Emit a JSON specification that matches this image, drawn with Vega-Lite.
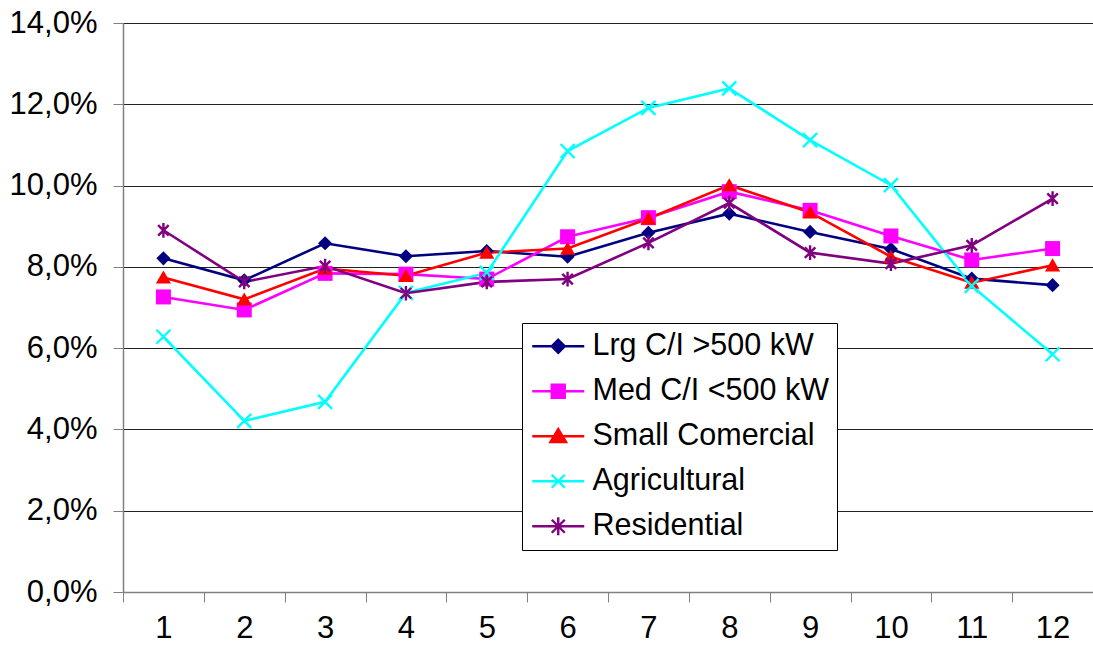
{
  "$schema": "https://vega.github.io/schema/vega-lite/v6.json",
  "width": 970,
  "height": 569,
  "autosize": {"type": "none"},
  "padding": {"left": 123, "top": 23, "right": 0, "bottom": 63},
  "background": "#ffffff",
  "config": {
    "view": {"stroke": null},
    "font": "Liberation Sans",
    "axis": {
      "labelFont": "Liberation Sans",
      "labelColor": "#000000",
      "title": null
    }
  },
  "data": {
    "values": [
      {"month": 1, "series": "Lrg C/I >500 kW", "share": 8.21},
      {"month": 2, "series": "Lrg C/I >500 kW", "share": 7.67},
      {"month": 3, "series": "Lrg C/I >500 kW", "share": 8.58},
      {"month": 4, "series": "Lrg C/I >500 kW", "share": 8.26},
      {"month": 5, "series": "Lrg C/I >500 kW", "share": 8.39},
      {"month": 6, "series": "Lrg C/I >500 kW", "share": 8.25},
      {"month": 7, "series": "Lrg C/I >500 kW", "share": 8.84},
      {"month": 8, "series": "Lrg C/I >500 kW", "share": 9.31},
      {"month": 9, "series": "Lrg C/I >500 kW", "share": 8.86},
      {"month": 10, "series": "Lrg C/I >500 kW", "share": 8.44},
      {"month": 11, "series": "Lrg C/I >500 kW", "share": 7.71},
      {"month": 12, "series": "Lrg C/I >500 kW", "share": 7.55},
      {"month": 1, "series": "Med C/I <500 kW", "share": 7.26},
      {"month": 2, "series": "Med C/I <500 kW", "share": 6.94},
      {"month": 3, "series": "Med C/I <500 kW", "share": 7.84},
      {"month": 4, "series": "Med C/I <500 kW", "share": 7.82},
      {"month": 5, "series": "Med C/I <500 kW", "share": 7.70},
      {"month": 6, "series": "Med C/I <500 kW", "share": 8.74},
      {"month": 7, "series": "Med C/I <500 kW", "share": 9.21},
      {"month": 8, "series": "Med C/I <500 kW", "share": 9.85},
      {"month": 9, "series": "Med C/I <500 kW", "share": 9.39},
      {"month": 10, "series": "Med C/I <500 kW", "share": 8.76},
      {"month": 11, "series": "Med C/I <500 kW", "share": 8.17},
      {"month": 12, "series": "Med C/I <500 kW", "share": 8.45},
      {"month": 1, "series": "Small Comercial", "share": 7.74},
      {"month": 2, "series": "Small Comercial", "share": 7.20},
      {"month": 3, "series": "Small Comercial", "share": 7.96},
      {"month": 4, "series": "Small Comercial", "share": 7.78},
      {"month": 5, "series": "Small Comercial", "share": 8.35},
      {"month": 6, "series": "Small Comercial", "share": 8.45},
      {"month": 7, "series": "Small Comercial", "share": 9.19},
      {"month": 8, "series": "Small Comercial", "share": 10.01},
      {"month": 9, "series": "Small Comercial", "share": 9.34},
      {"month": 10, "series": "Small Comercial", "share": 8.25},
      {"month": 11, "series": "Small Comercial", "share": 7.61},
      {"month": 12, "series": "Small Comercial", "share": 8.04},
      {"month": 1, "series": "Agricultural", "share": 6.28},
      {"month": 2, "series": "Agricultural", "share": 4.21},
      {"month": 3, "series": "Agricultural", "share": 4.68},
      {"month": 4, "series": "Agricultural", "share": 7.36},
      {"month": 5, "series": "Agricultural", "share": 7.85},
      {"month": 6, "series": "Agricultural", "share": 10.85},
      {"month": 7, "series": "Agricultural", "share": 11.91},
      {"month": 8, "series": "Agricultural", "share": 12.39},
      {"month": 9, "series": "Agricultural", "share": 11.12},
      {"month": 10, "series": "Agricultural", "share": 10.01},
      {"month": 11, "series": "Agricultural", "share": 7.53},
      {"month": 12, "series": "Agricultural", "share": 5.85},
      {"month": 1, "series": "Residential", "share": 8.90},
      {"month": 2, "series": "Residential", "share": 7.63},
      {"month": 3, "series": "Residential", "share": 8.02},
      {"month": 4, "series": "Residential", "share": 7.35},
      {"month": 5, "series": "Residential", "share": 7.63},
      {"month": 6, "series": "Residential", "share": 7.70},
      {"month": 7, "series": "Residential", "share": 8.59},
      {"month": 8, "series": "Residential", "share": 9.57},
      {"month": 9, "series": "Residential", "share": 8.35},
      {"month": 10, "series": "Residential", "share": 8.08},
      {"month": 11, "series": "Residential", "share": 8.53},
      {"month": 12, "series": "Residential", "share": 9.68}
    ]
  },
  "encoding": {
    "x": {
      "field": "month",
      "type": "ordinal",
      "bandPosition": 0.5,
      "scale": {"type": "band", "paddingInner": 0, "paddingOuter": 0},
      "axis": {
        "labelAngle": 0,
        "labelFontSize": 31,
        "tickBand": "extent",
        "tickSize": 10,
        "tickColor": "#808080",
        "tickWidth": 1,
        "domainColor": "#808080",
        "domainWidth": 1.5,
        "labelPadding": 11,
        "grid": false
      }
    },
    "y": {
      "field": "share",
      "type": "quantitative",
      "scale": {"domain": [0, 14], "nice": false},
      "axis": {
        "values": [0, 2, 4, 6, 8, 10, 12, 14],
        "labelExpr": "replace(format(datum.value, '.1f'), '.', ',') + '%'",
        "labelFontSize": 31,
        "labelPadding": 16,
        "tickSize": 10,
        "tickColor": "#808080",
        "domainColor": "#808080",
        "domainWidth": 1.5,
        "grid": true,
        "gridColor": "#222222",
        "gridWidth": 1
      }
    },
    "color": {
      "field": "series",
      "type": "nominal",
      "sort": ["Lrg C/I >500 kW", "Med C/I <500 kW", "Small Comercial", "Agricultural", "Residential"],
      "scale": {
        "domain": ["Lrg C/I >500 kW", "Med C/I <500 kW", "Small Comercial", "Agricultural", "Residential"],
        "range": ["#000080", "#FF00FF", "#FF0000", "#00FFFF", "#800080"]
      },
      "legend": {
        "title": null,
        "orient": "none",
        "legendX": 399,
        "legendY": 300,
        "padding": 8,
        "strokeColor": "#000000",
        "fillColor": "#ffffff",
        "cornerRadius": 0,
        "labelFont": "Liberation Sans",
        "labelFontSize": 30.5,
        "labelColor": "#000000",
        "labelLimit": 400,
        "symbolOffset": 13,
        "labelOffset": 19,
        "rowPadding": 14,
        "symbolSize": 676,
        "encode": {
          "symbols": {
            "update": {
              "shape": {"signal": "datum.value === 'Lrg C/I >500 kW' ? 'M-2,0H2M0,-0.5L0.5,0L0,0.5L-0.5,0Z' : datum.value === 'Med C/I <500 kW' ? 'M-2,0H2M-0.5,-0.5H0.5V0.5H-0.5Z' : datum.value === 'Small Comercial' ? 'M-2,0H2M0,-0.55L0.6,0.45H-0.6Z' : datum.value === 'Agricultural' ? 'M-2,0H2M-0.5,-0.5L0.5,0.5M-0.5,0.5L0.5,-0.5' : 'M-2,0H2M-0.5,-0.5L0.5,0.5M-0.5,0.5L0.5,-0.5M0,-0.7V0.7'"},
              "size": {"value": 676},
              "fill": {"signal": "scale('color', datum.value)"},
              "stroke": {"signal": "scale('color', datum.value)"},
              "strokeWidth": {"value": 2.4},
              "opacity": {"value": 1}
            }
          }
        }
      }
    }
  },
  "layer": [
    {
      "mark": {"type": "line", "strokeWidth": 2.6}
    },
    {
      "transform": [{"filter": "datum.series === 'Lrg C/I >500 kW'"}],
      "mark": {"type": "point", "shape": "diamond", "filled": true, "opacity": 1, "size": 200}
    },
    {
      "transform": [{"filter": "datum.series === 'Med C/I <500 kW'"}],
      "mark": {"type": "point", "shape": "square", "filled": true, "opacity": 1, "size": 225}
    },
    {
      "transform": [{"filter": "datum.series === 'Small Comercial'"}],
      "mark": {"type": "point", "shape": "M0,-0.95L1.05,0.85H-1.05Z", "filled": true, "opacity": 1, "size": 210}
    },
    {
      "transform": [{"filter": "datum.series === 'Agricultural'"}],
      "mark": {"type": "point", "shape": "M-1,-1L1,1M-1,1L1,-1", "filled": false, "opacity": 1, "size": 196, "strokeWidth": 2.4}
    },
    {
      "transform": [{"filter": "datum.series === 'Residential'"}],
      "mark": {"type": "point", "shape": "M-0.75,-0.75L0.75,0.75M-0.75,0.75L0.75,-0.75M0,-1.05L0,1.05", "filled": false, "opacity": 1, "size": 196, "strokeWidth": 2.4}
    }
  ]
}
